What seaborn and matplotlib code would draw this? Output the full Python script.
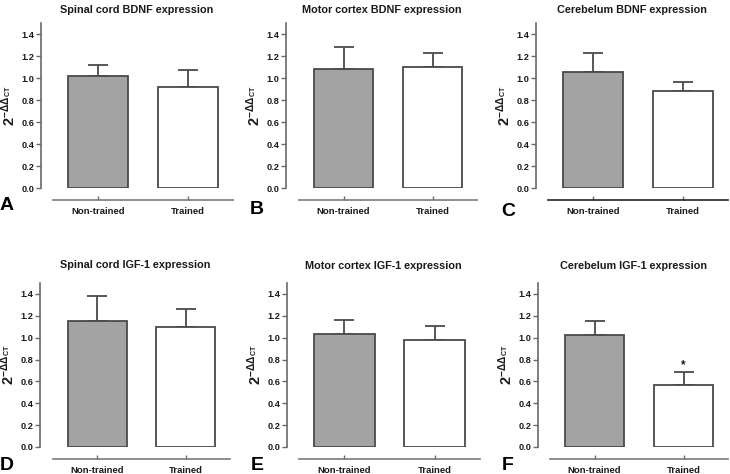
import numpy as np
import pandas as pd
import seaborn as sns
import matplotlib.pyplot as plt

# values (mean, upper SEM)
groups = ['Non-trained', 'Trained']
titles = ['Spinal cord BDNF expression', 'Motor cortex BDNF expression',
          'Cerebelum BDNF expression', 'Spinal cord IGF-1 expression',
          'Motor cortex IGF-1 expression', 'Cerebelum IGF-1 expression']
letters = ['A', 'B', 'C', 'D', 'E', 'F']
nontrained_mean = [1.02, 1.08, 1.055, 1.15, 1.03, 1.02]
nontrained_err = [0.10, 0.20, 0.17, 0.235, 0.13, 0.13]
trained_mean = [0.92, 1.10, 0.885, 1.095, 0.98, 0.57]
trained_err = [0.155, 0.13, 0.08, 0.17, 0.125, 0.115]
signif = ['', '', '', '', '', '*']

sns.set_style('white')
plt.rcParams['font.family'] = ['Liberation Sans', 'DejaVu Sans']
plt.rcParams['font.weight'] = 'bold'
plt.rcParams['mathtext.fontset'] = 'custom'
plt.rcParams['mathtext.bf'] = 'Liberation Sans:bold'
plt.rcParams['mathtext.rm'] = 'Liberation Sans:bold'
plt.rcParams['mathtext.it'] = 'Liberation Sans:bold'

W, H = 730, 474
fig = plt.figure(figsize=(7.3, 4.74), dpi=100)

# panel layout in pixels: left spine x, x-line start, x-line end, y of zero, y of top
layout = [(41, 53, 233, 188, 23), (286, 299, 477, 188, 23), (536, 548, 728, 188, 23),
          (40, 53, 230, 447, 283), (287, 299, 480, 447, 283), (538, 550, 728, 447, 283)]
letter_pos = [(7, 206), (257, 210), (508, 211), (7, 466), (257, 465), (508, 466)]
title_pad = [7, 7, 7, 11, 10, 10]

text_col = '#1a1a1a'
edge_col = '#4a4a4a'
spine_col = '#6a6a6a'

for i in range(6):
    L, X0, X1, Y0, YT = layout[i]
    unit = (X1 - X0) / 2.0
    ax = fig.add_axes([L / W, (H - Y0) / H, (X1 - L) / W, (Y0 - YT) / H])
    df = pd.DataFrame({'group': groups,
                       'value': [nontrained_mean[i], trained_mean[i]]})
    sns.barplot(data=df, x='group', y='value', hue='group', legend=False,
                palette=['#a3a3a3', 'white'], edgecolor=edge_col, linewidth=1.3,
                width=0.67, ax=ax, zorder=2)
    ax.errorbar([0, 1], df['value'],
                yerr=[[0, 0], [nontrained_err[i], trained_err[i]]],
                fmt='none', ecolor=edge_col, elinewidth=1.3, capsize=7,
                capthick=1.3, zorder=1)
    if signif[i]:
        ax.text(1, trained_mean[i] + trained_err[i] + 0.005, signif[i],
                ha='center', va='bottom', fontsize=8.5, color=text_col)
    ax.set_xlim(-0.5 - (X0 - L) / unit, 1.5)
    ax.set_ylim(0, 1.5)
    ax.set_yticks(np.arange(0, 1.41, 0.2))
    ax.set_yticklabels(['%.1f' % v for v in np.arange(0, 1.41, 0.2)])
    for s in ['top', 'right']:
        ax.spines[s].set_visible(False)
    ax.spines['left'].set_bounds(0, 1.5)
    ax.spines['left'].set_color(spine_col)
    ax.spines['left'].set_linewidth(1.2)
    ax.spines['bottom'].set_position(('outward', 12 * 0.72))
    ax.spines['bottom'].set_bounds(-0.5, 1.5)
    ax.spines['bottom'].set_color('#222222' if i == 2 else '#7a7a7a')
    ax.spines['bottom'].set_linewidth(1.2)
    ax.tick_params(axis='y', direction='out', length=3.5, width=1, color=spine_col,
                   labelsize=6.6, labelcolor=text_col, pad=1.5, left=True)
    ax.tick_params(axis='x', direction='in', length=3, width=1, color=spine_col,
                   labelsize=6.8, labelcolor=text_col, pad=5, bottom=True)
    ax.set_xlabel('')
    ax.set_ylabel(r'$\mathbf{2^{-\Delta\Delta_{CT}}}$', fontsize=10.5, color=text_col,
                  labelpad=2)
    ax.set_title(titles[i], fontsize=7.8, fontweight='bold', color=text_col,
                 pad=title_pad[i])
    lx, ly = letter_pos[i]
    fig.text(lx / W, 1 - ly / H, letters[i], fontsize=14, fontweight='bold',
             ha='center', va='center', color='black')

fig.savefig('out.png', dpi=100)
